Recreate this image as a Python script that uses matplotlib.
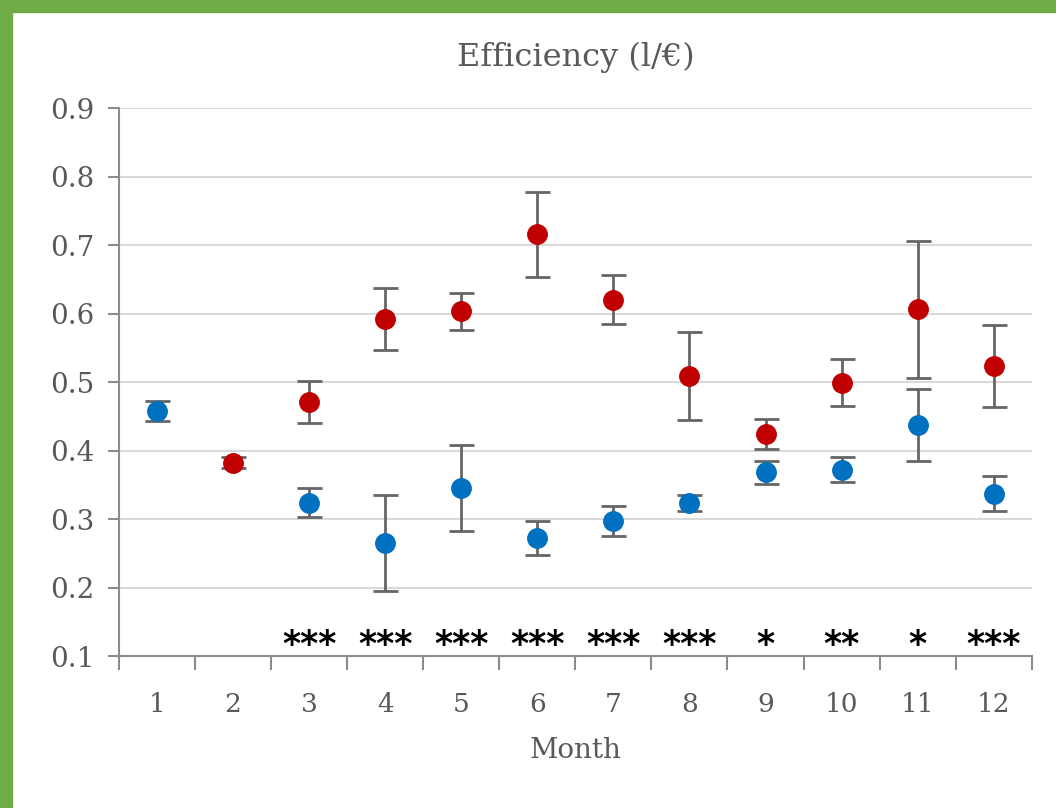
import matplotlib.pyplot as plt
from matplotlib.patches import Rectangle

# ===============================
# Datos
# ===============================
meses = list(range(1, 13))
etiquetas_x = [str(m) for m in meses]

meses_azul = [1, 3, 4, 5, 6, 7, 8, 9, 10, 11, 12]
valores_azul = [0.458, 0.324, 0.265, 0.345, 0.272, 0.297, 0.323, 0.368, 0.372, 0.437, 0.337]
error_azul = [0.015, 0.021, 0.07, 0.063, 0.025, 0.022, 0.012, 0.017, 0.018, 0.053, 0.026]

meses_rojo = [2, 3, 4, 5, 6, 7, 8, 9, 10, 11, 12]
valores_rojo = [0.382, 0.471, 0.592, 0.603, 0.716, 0.620, 0.509, 0.424, 0.499, 0.606, 0.523]
error_rojo = [0.008, 0.031, 0.045, 0.027, 0.062, 0.036, 0.064, 0.022, 0.034, 0.100, 0.060]

meses_sig = [3, 4, 5, 6, 7, 8, 9, 10, 11, 12]
asteriscos = ['***', '***', '***', '***', '***', '***', '*', '**', '*', '***']

fuente = 'DejaVu Serif'
gris_texto = '#595959'

# ===============================
# Figura
# ===============================
fig = plt.figure(figsize=(10.56, 8.08), dpi=100)
ax = fig.add_axes([0.1127, 0.1881, 0.8643, 0.6782])

# borde verde (arriba e izquierda)
fig.patches.append(Rectangle((0, 0), 12 / 1056, 1, transform=fig.transFigure,
                             color='#70AD47', zorder=10))
fig.patches.append(Rectangle((0, 1 - 12 / 808), 1, 12 / 808, transform=fig.transFigure,
                             color='#70AD47', zorder=10))

ax.errorbar(meses_azul, valores_azul, yerr=error_azul, fmt='o', color='#0070C0',
            markersize=14, ecolor='#666666', elinewidth=2, capsize=9, capthick=2, zorder=3)
ax.errorbar(meses_rojo, valores_rojo, yerr=error_rojo, fmt='o', color='#C00000',
            markersize=14, ecolor='#666666', elinewidth=2, capsize=9, capthick=2, zorder=3)

# asteriscos de significancia
for m, s in zip(meses_sig, asteriscos):
    ax.text(m, 0.101, s, ha='center', va='baseline', fontsize=25,
            fontweight='bold', color='black', family='DejaVu Sans', clip_on=False)

ax.set_xlim(0.5, 12.5)
ax.set_ylim(0.1, 0.9)
ax.set_yticks([0.1, 0.2, 0.3, 0.4, 0.5, 0.6, 0.7, 0.8, 0.9])
ax.set_yticklabels(['0.1', '0.2', '0.3', '0.4', '0.5', '0.6', '0.7', '0.8', '0.9'],
                   family=fuente, fontsize=20, color=gris_texto)
ax.set_xticks([m - 0.5 for m in meses] + [12.5])
ax.set_xticklabels([])
ax.set_xticks(meses, minor=True)
ax.set_xticklabels(etiquetas_x, minor=True, family=fuente, fontsize=19, color=gris_texto)
ax.tick_params(axis='x', which='minor', length=0, pad=26)
ax.tick_params(axis='x', which='major', length=10, width=1.5, color='#8c8c8c')
ax.tick_params(axis='y', length=8, width=1.5, color='#8c8c8c', pad=10)

ax.grid(axis='y', color='#D9D9D9', linewidth=1.5, zorder=0)
ax.set_axisbelow(True)
for lado in ['top', 'right']:
    ax.spines[lado].set_visible(False)
for lado in ['left', 'bottom']:
    ax.spines[lado].set_color('#8c8c8c')
    ax.spines[lado].set_linewidth(1.5)

ax.set_title('Efficiency (l/€)', family=fuente, fontsize=23, color=gris_texto, pad=30)
ax.set_xlabel('Month', family=fuente, fontsize=20, color=gris_texto, labelpad=14)

fig.savefig('out.png', dpi=100)
